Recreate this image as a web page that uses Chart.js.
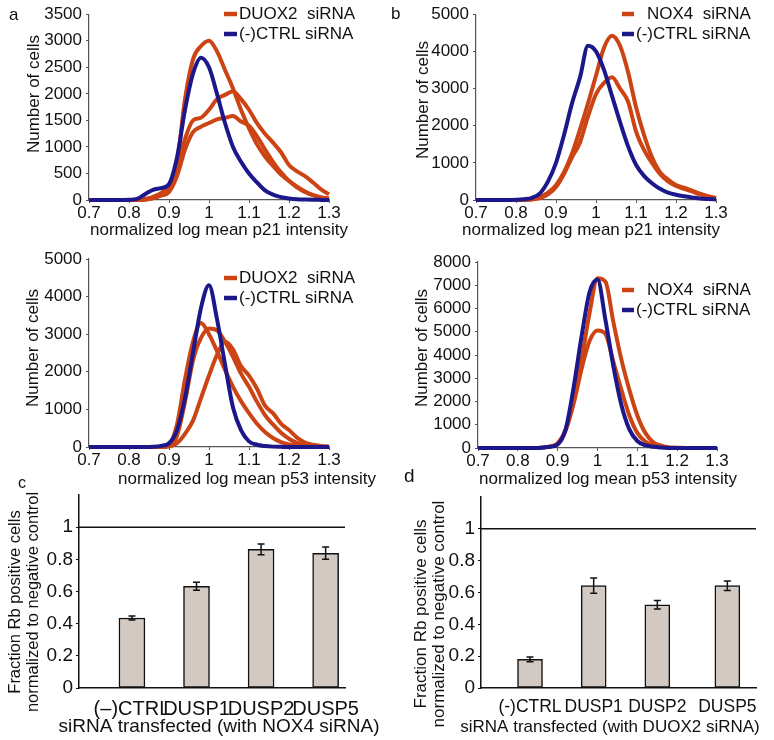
<!DOCTYPE html>
<html>
<head>
<meta charset="utf-8">
<script src="https://cdn.jsdelivr.net/npm/chart.js@4.4.1/dist/chart.umd.min.js"></script>
<style>
  html, body { margin: 0; padding: 0; background: #fff; }
  #fig { position: relative; width: 774px; height: 740px; overflow: hidden; }
  #fig canvas { position: absolute; }
</style>
</head>
<body>
<div id="fig">
  <canvas id="a1" width="385" height="240" style="left:0;top:0"></canvas>
  <canvas id="b1" width="389" height="240" style="left:385px;top:0"></canvas>
  <canvas id="a2" width="385" height="254" style="left:0;top:240px"></canvas>
  <canvas id="b2" width="389" height="254" style="left:385px;top:240px"></canvas>
  <canvas id="c" width="385" height="275" style="left:0;top:465px"></canvas>
  <canvas id="d" width="374" height="275" style="left:400px;top:465px"></canvas>
</div>
<script>
// histogram bins (normalized log mean intensity)
const bins = [0.70, 0.72, 0.74, 0.76, 0.78, 0.80, 0.82, 0.84, 0.86, 0.88, 0.90, 0.92, 0.94, 0.96, 0.98,
              1.00, 1.02, 1.04, 1.06, 1.08, 1.10, 1.12, 1.14, 1.16, 1.18, 1.20, 1.22, 1.24, 1.26, 1.28, 1.30];
const intensityTicks = [0.7, 0.8, 0.9, 1, 1.1, 1.2, 1.3];

// a, p21: DUOX2 siRNA (3 replicates) vs (-)CTRL
const p21CtrlA = [0,0,0,0,0,5,20,110,190,225,300,800,1700,2380,2680,2500,2000,1450,1000,720,500,330,180,100,55,30,15,8,4,2,0];
const p21Duox1 = [0,0,0,0,0,0,5,20,60,130,280,700,1900,2650,2900,3000,2800,2450,2100,1700,1350,1050,820,640,480,360,250,160,90,50,25];
const p21Duox2 = [0,0,0,0,0,0,0,10,40,100,200,600,1150,1500,1550,1700,1900,1980,2050,1900,1700,1450,1250,1080,900,660,540,450,330,200,110];
const p21Duox3 = [0,0,0,0,0,0,0,5,30,80,150,450,950,1280,1380,1450,1520,1550,1580,1480,1400,1200,950,720,520,360,240,150,90,50,30];
const p21TicksA = [0, 500, 1000, 1500, 2000, 2500, 3000, 3500];

// b, p21: NOX4 siRNA vs (-)CTRL
const p21CtrlB = [0,0,0,0,0,5,20,60,180,500,1000,1750,2600,3300,4150,4000,3500,2800,2100,1450,950,650,450,300,200,140,100,70,40,25,15];
const p21Nox1 = [0,0,0,0,0,0,5,20,80,200,400,750,1250,1900,2600,3350,4100,4420,4150,3450,2500,1750,1150,750,550,400,330,250,170,100,50];
const p21Nox2 = [0,0,0,0,0,0,0,10,50,150,350,700,1150,1550,2250,2850,3150,3300,3000,2650,1850,1350,1000,700,500,380,300,230,150,90,50];
const p21TicksB = [0, 1000, 2000, 3000, 4000, 5000];

// a, p53
const p53CtrlA = [0,0,0,0,0,0,0,0,5,30,100,450,1300,2500,3700,4300,3400,2200,1050,450,150,60,25,10,5,0,0,0,0,0,0];
const p53Duox1 = [0,0,0,0,0,0,0,0,0,0,60,600,1800,2800,3300,3000,2550,2050,1600,1220,900,620,400,240,130,70,30,10,5,0,0];
const p53Duox2 = [0,0,0,0,0,0,0,0,0,0,30,300,1200,2300,2900,3150,3100,2800,2400,1950,1600,1200,850,600,380,220,110,50,20,10,0];
const p53Duox3 = [0,0,0,0,0,0,0,0,0,0,10,100,350,700,1300,1900,2450,2800,2600,2150,1900,1550,1100,900,620,450,250,120,60,30,15];
const p53TicksA = [0, 1000, 2000, 3000, 4000, 5000];

// b, p53
const p53CtrlB = [0,0,0,0,0,0,0,0,10,50,150,800,2600,4800,6700,7250,5500,3500,1850,800,300,120,50,20,5,0,0,0,0,0,0];
const p53Nox1 = [0,0,0,0,0,0,0,0,15,60,200,800,2100,3800,5800,7300,7150,5400,3800,2500,1400,650,250,100,25,10,0,0,0,0,0];
const p53Nox2 = [0,0,0,0,0,0,0,0,15,60,200,750,1900,3400,4600,5050,4900,3700,2500,1400,650,280,110,40,15,5,0,0,0,0,0];
const p53TicksB = [0, 1000, 2000, 3000, 4000, 5000, 6000, 7000, 8000];

// c, d: fraction Rb positive cells
const catsC = ['(\u2013)CTRL', 'DUSP1', 'DUSP2', 'DUSP5'];
const posC = [1, 2, 3, 4];
const fracC = [0.435, 0.632, 0.862, 0.838];
const errC = [0.012, 0.025, 0.033, 0.038];
const catsD = ['(-)CTRL', 'DUSP1', 'DUSP2', 'DUSP5'];
const posD = [1, 2, 3, 4.1];
const fracD = [0.18, 0.643, 0.523, 0.643];
const errD = [0.015, 0.048, 0.027, 0.03];
const fracTicks = [0, 0.2, 0.4, 0.6, 0.8, 1];

const RED = '#cc4414';
const BLUE = '#1c188c';
const BAR = '#d2cac2';
const AXIS = '#555';
const FONT = '"Liberation Sans", Arial, Helvetica, sans-serif';
const FRAC_TITLE = ['Fraction Rb positive cells', 'normalized to negative control'];

Chart.defaults.font.family = FONT;
Chart.defaults.color = '#111';

// free text (axis titles, panel letters, legend) and legend marks, in page coordinates
function overlay(left, top, items) {
    return {
        id: 'overlay',
        afterDraw(chart) {
            const ctx = chart.ctx;
            ctx.save();
            items.forEach(it => {
                const x = it.x - left, y = it.y - top;
                if (it.mark) {
                    ctx.strokeStyle = it.mark;
                    ctx.lineWidth = 4.5;
                    ctx.beginPath();
                    ctx.moveTo(x, y);
                    ctx.lineTo(x + it.w, y);
                    ctx.stroke();
                    return;
                }
                ctx.save();
                ctx.fillStyle = '#111';
                ctx.font = `${it.size || 17}px ${FONT}`;
                ctx.textBaseline = 'middle';
                ctx.textAlign = it.align || 'left';
                ctx.translate(x, y);
                if (it.rot) ctx.rotate(-Math.PI / 2);
                ctx.fillText(it.text, 0, 0);
                ctx.restore();
            });
            ctx.restore();
        }
    };
}

function errorBars(errors) {
    return {
        id: 'errorBars',
        afterDatasetsDraw(chart) {
            const { ctx, scales: { x, y } } = chart;
            const pts = chart.data.datasets[0].data;
            ctx.save();
            ctx.strokeStyle = '#111';
            ctx.lineWidth = 1.5;
            pts.forEach((p, i) => {
                const px = x.getPixelForValue(p.x);
                const hi = y.getPixelForValue(p.y + errors[i]);
                const lo = y.getPixelForValue(p.y - errors[i]);
                ctx.beginPath();
                ctx.moveTo(px, hi); ctx.lineTo(px, lo);
                ctx.moveTo(px - 3.5, hi); ctx.lineTo(px + 3.5, hi);
                ctx.moveTo(px - 3.5, lo); ctx.lineTo(px + 3.5, lo);
                ctx.stroke();
            });
            ctx.restore();
        }
    };
}

function histChart(id, cfg) {
    const datasets = cfg.series.map(s => ({
        data: bins.map((b, i) => ({ x: b, y: s.values[i] })),
        borderColor: s.color,
        borderWidth: 4,
        pointRadius: 0,
        cubicInterpolationMode: 'monotone',
        fill: false,
        clip: 6
    }));
    const notes = cfg.notes.concat([
        { text: cfg.xTitle, x: cfg.xTitleAt[0], y: cfg.xTitleAt[1], size: 17, align: 'center' },
        { text: 'Number of cells', x: cfg.yTitleAt[0], y: cfg.yTitleAt[1], size: 17, align: 'center', rot: true }
    ]);
    return new Chart(document.getElementById(id), {
        type: 'line',
        data: { datasets },
        options: {
            responsive: false,
            animation: false,
            layout: { padding: { top: cfg.padTop, right: cfg.padRight, bottom: 0, left: 0 } },
            plugins: { legend: { display: false }, tooltip: { enabled: false } },
            scales: {
                x: {
                    type: 'linear', min: 0.7, max: 1.3,
                    afterBuildTicks: sc => { sc.ticks = intensityTicks.map(v => ({ value: v })); },
                    afterFit: sc => { sc.height = cfg.xH; },
                    ticks: { font: { size: 17 }, padding: 0, maxRotation: 0, autoSkip: false, callback: v => String(v) },
                    grid: { display: true, drawOnChartArea: false, tickLength: 3, color: AXIS },
                    border: { color: AXIS, width: 1.2 }
                },
                y: {
                    min: 0, max: cfg.yTicks[cfg.yTicks.length - 1],
                    afterBuildTicks: sc => { sc.ticks = cfg.yTicks.map(v => ({ value: v })); },
                    afterFit: sc => { sc.width = cfg.yW; },
                    ticks: { font: { size: 17 }, padding: 4, autoSkip: false, callback: v => String(v) },
                    grid: { display: true, drawOnChartArea: false, tickLength: 3, color: AXIS },
                    border: { color: AXIS, width: 1.2 }
                }
            }
        },
        plugins: [overlay(cfg.left, cfg.top, notes)]
    });
}

function barChart(id, cfg) {
    const notes = cfg.notes.concat([
        { text: cfg.xTitle, x: cfg.xTitleAt[0], y: cfg.xTitleAt[1], size: cfg.titleSize, align: 'center' },
        { text: FRAC_TITLE[0], x: cfg.yTitleAt[0], y: cfg.yTitleAt[2], size: cfg.yTitleSize, align: 'center', rot: true },
        { text: FRAC_TITLE[1], x: cfg.yTitleAt[1], y: cfg.yTitleAt[2], size: cfg.yTitleSize, align: 'center', rot: true }
    ]);
    return new Chart(document.getElementById(id), {
        type: 'bar',
        data: {
            datasets: [
                {
                    type: 'bar',
                    data: cfg.pos.map((p, i) => ({ x: p, y: cfg.values[i] })),
                    backgroundColor: BAR,
                    borderColor: '#111',
                    borderWidth: 1.5,
                    borderSkipped: false,
                    barThickness: cfg.barW
                },
                {
                    type: 'line',
                    data: [{ x: cfg.xMin, y: 1 }, { x: cfg.xMax, y: 1 }],
                    borderColor: '#111',
                    borderWidth: 1.5,
                    pointRadius: 0
                }
            ]
        },
        options: {
            responsive: false,
            animation: false,
            layout: { padding: { top: cfg.padTop, right: cfg.padRight, bottom: 0, left: 0 } },
            plugins: { legend: { display: false }, tooltip: { enabled: false } },
            scales: {
                x: {
                    type: 'linear', min: cfg.xMin, max: cfg.xMax, offset: false,
                    afterBuildTicks: sc => { sc.ticks = cfg.pos.map(v => ({ value: v })); },
                    afterFit: sc => { sc.height = cfg.xH; },
                    ticks: { font: { size: cfg.catSize }, padding: 1, maxRotation: 0, autoSkip: false, callback: (v, i) => cfg.cats[i] },
                    grid: { display: false, offset: false },
                    border: { color: '#111', width: 1.5 }
                },
                y: {
                    min: 0, max: 1.2,
                    afterBuildTicks: sc => { sc.ticks = fracTicks.map(v => ({ value: v })); },
                    afterFit: sc => { sc.width = cfg.yW; },
                    ticks: { font: { size: 19 }, padding: 3, autoSkip: false, callback: v => String(v) },
                    grid: { display: true, drawOnChartArea: false, tickLength: 3, color: '#111' },
                    border: { color: '#111', width: 1.5 }
                }
            }
        },
        plugins: [errorBars(cfg.errors), overlay(cfg.left, cfg.top, notes)]
    });
}

histChart('a1', {
    left: 0, top: 0, padTop: 14, padRight: 56, xH: 40, yW: 89,
    xTitle: 'normalized log mean p21 intensity', xTitleAt: [219, 230], yTitleAt: [34, 94],
    yTicks: p21TicksA,
    series: [
        { values: p21CtrlA, color: BLUE },
        { values: p21Duox1, color: RED },
        { values: p21Duox2, color: RED },
        { values: p21Duox3, color: RED }
    ],
    notes: [
        { text: 'a', x: 9, y: 15, size: 17 },
        { mark: RED, x: 224, y: 14, w: 13 }, { text: 'DUOX2  siRNA', x: 239, y: 14 },
        { mark: BLUE, x: 224, y: 34, w: 13 }, { text: '(-)CTRL siRNA', x: 239, y: 34 }
    ]
});

histChart('b1', {
    left: 385, top: 0, padTop: 14, padRight: 58, xH: 40, yW: 91,
    xTitle: 'normalized log mean p21 intensity', xTitleAt: [591, 230], yTitleAt: [423, 100],
    yTicks: p21TicksB,
    series: [
        { values: p21CtrlB, color: BLUE },
        { values: p21Nox1, color: RED },
        { values: p21Nox2, color: RED }
    ],
    notes: [
        { text: 'b', x: 391, y: 14, size: 17 },
        { mark: RED, x: 622, y: 14, w: 12 }, { text: 'NOX4  siRNA', x: 647, y: 14 },
        { mark: BLUE, x: 622, y: 34, w: 12 }, { text: '(-)CTRL siRNA', x: 636, y: 34 }
    ]
});

histChart('a2', {
    left: 0, top: 240, padTop: 19, padRight: 56, xH: 47, yW: 89,
    xTitle: 'normalized log mean p53 intensity', xTitleAt: [247, 479], yTitleAt: [33, 348],
    yTicks: p53TicksA,
    series: [
        { values: p53CtrlA, color: BLUE },
        { values: p53Duox1, color: RED },
        { values: p53Duox2, color: RED },
        { values: p53Duox3, color: RED }
    ],
    notes: [
        { mark: RED, x: 224, y: 278, w: 13 }, { text: 'DUOX2  siRNA', x: 239, y: 278 },
        { mark: BLUE, x: 224, y: 298, w: 13 }, { text: '(-)CTRL siRNA', x: 239, y: 298 }
    ]
});

histChart('b2', {
    left: 385, top: 240, padTop: 22, padRight: 57, xH: 46, yW: 93,
    xTitle: 'normalized log mean p53 intensity', xTitleAt: [608, 479], yTitleAt: [422, 348],
    yTicks: p53TicksB,
    series: [
        { values: p53CtrlB, color: BLUE },
        { values: p53Nox1, color: RED },
        { values: p53Nox2, color: RED }
    ],
    notes: [
        { mark: RED, x: 622, y: 290, w: 12 }, { text: 'NOX4  siRNA', x: 647, y: 290 },
        { mark: BLUE, x: 622, y: 310, w: 12 }, { text: '(-)CTRL siRNA', x: 636, y: 310 }
    ]
});

barChart('c', {
    left: 0, top: 465, padTop: 30, padRight: 40, xH: 52, yW: 79,
    xMin: 0.18, xMax: 4.3, barW: 26, catSize: 20, titleSize: 19, yTitleSize: 16.5,
    cats: catsC, pos: posC, values: fracC, errors: errC,
    xTitle: 'siRNA transfected (with NOX4 siRNA)', xTitleAt: [219, 727], yTitleAt: [15, 33, 602],
    notes: [{ text: 'c', x: 18, y: 484, size: 16 }]
});

barChart('d', {
    left: 400, top: 465, padTop: 32, padRight: 18, xH: 52, yW: 81,
    xMin: 0.23, xMax: 4.55, barW: 25, catSize: 17.5, titleSize: 17, yTitleSize: 17,
    cats: catsD, pos: posD, values: fracD, errors: errD,
    xTitle: 'siRNA transfected (with DUOX2 siRNA)', xTitleAt: [610, 727], yTitleAt: [421, 439, 614],
    notes: [{ text: 'd', x: 404, y: 477, size: 19 }]
});
</script>
</body>
</html>
